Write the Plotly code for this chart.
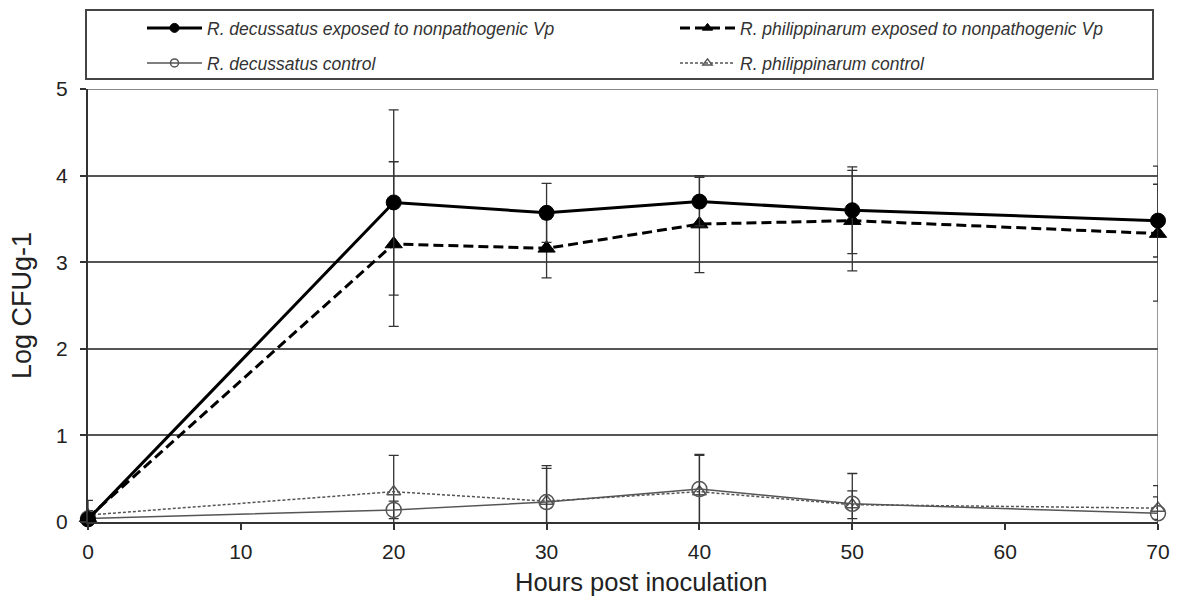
import plotly.graph_objects as go

hours = [0, 20, 30, 40, 50, 70]

dec_exp = [0.03, 3.69, 3.57, 3.70, 3.60, 3.48]
dec_exp_err = [0.22, 1.07, 0.34, 0.28, 0.50, 0.42]
phi_exp = [0.05, 3.21, 3.16, 3.44, 3.48, 3.33]
phi_exp_err = [0.05, 0.95, 0.34, 0.56, 0.58, 0.78]
dec_ctrl = [0.04, 0.14, 0.23, 0.38, 0.21, 0.10]
dec_ctrl_err = [0.05, 0.10, 0.42, 0.40, 0.35, 0.32]
phi_ctrl = [0.08, 0.35, 0.24, 0.35, 0.20, 0.16]
phi_ctrl_err = [0.05, 0.42, 0.38, 0.42, 0.16, 0.13]

names = [
    "R. decussatus exposed to nonpathogenic Vp",
    "R. philippinarum exposed to nonpathogenic Vp",
    "R. decussatus control",
    "R. philippinarum control",
]

x_ticks = [0, 10, 20, 30, 40, 50, 60, 70]
y_ticks = [0, 1, 2, 3, 4, 5]

FONT = "Liberation Sans, Arial, sans-serif"
PW, PH, L, B = 1070, 433, 88, 522


def px_x(p):
    return (p - L) / PW


def px_y(p):
    return (B - p) / PH


fig = go.Figure()


def add(y, err, name, color, width, dash, symbol, size, mline, legend, legsize):
    fig.add_trace(go.Scatter(
        x=hours, y=y, name=name, mode="lines+markers",
        line=dict(color=color, width=width, dash=dash),
        marker=dict(symbol=symbol, size=size, color=color,
                    line=dict(color=color, width=mline)),
        error_y=dict(type="data", array=err, visible=True,
                     color="#333333", thickness=1.3, width=5),
        cliponaxis=False, showlegend=False,
    ))
    # legend-only entry with a smaller symbol, as in the reference key
    fig.add_trace(go.Scatter(
        x=[None], y=[None], name=name, mode="lines+markers",
        line=dict(color=color, width=width, dash=dash),
        marker=dict(symbol=symbol, size=legsize, color=color,
                    line=dict(color=color, width=mline)),
        showlegend=True, legend=legend, hoverinfo="skip",
    ))


add(phi_ctrl, phi_ctrl_err, names[3], "#555555", 1.5, "3px,2px", "triangle-up-open", 12, 1.5, "legend4", 8)
add(dec_ctrl, dec_ctrl_err, names[2], "#555555", 1.5, "solid", "circle-open", 15, 1.5, "legend3", 8)
add(phi_exp, phi_exp_err, names[1], "#000000", 3, "10px,5px", "triangle-up", 15, 1, "legend2", 9)
add(dec_exp, dec_exp_err, names[0], "#000000", 3, "solid", "circle", 15, 1, "legend", 9)

leg_common = dict(
    orientation="h", xanchor="left", yanchor="middle",
    font=dict(family=FONT, size=17.5, color="#333333", style="italic"),
    bgcolor="rgba(0,0,0,0)", itemwidth=55,
    itemsizing="trace",
)

fig.update_layout(
    width=1179, height=603,
    margin=dict(l=88, r=21, t=89, b=81, autoexpand=False),
    paper_bgcolor="white", plot_bgcolor="white",
    font=dict(family=FONT, color="#222222"),
    showlegend=True,
    legend=dict(x=px_x(142), y=px_y(28), **leg_common),
    legend2=dict(x=px_x(675), y=px_y(28), **leg_common),
    legend3=dict(x=px_x(142), y=px_y(63), **leg_common),
    legend4=dict(x=px_x(675), y=px_y(63), **leg_common),
    xaxis=dict(
        range=[0, 70], tickvals=x_ticks, ticks="outside", ticklen=6,
        tickcolor="#333333", tickwidth=1.5, showgrid=False, zeroline=False,
        showline=True, linecolor="#333333", linewidth=2,
        tickfont=dict(size=21, color="#222222"), ticklabelstandoff=4,
    ),
    yaxis=dict(
        range=[0, 5], tickvals=y_ticks, ticks="outside", ticklen=6,
        tickcolor="#333333", tickwidth=1.5, showgrid=True, gridcolor="#555555",
        gridwidth=2, zeroline=False, showline=True, linecolor="#333333", linewidth=2,
        tickfont=dict(size=21, color="#222222"), ticklabelstandoff=8,
        title=dict(text="Log CFUg-1", font=dict(size=27, color="#222222"), standoff=17),
    ),
    annotations=[
        dict(text="Hours post inoculation", xref="paper", yref="paper",
             x=px_x(641), y=px_y(590), xanchor="center", yanchor="bottom",
             yshift=-8, showarrow=False,
             font=dict(family=FONT, size=25.5, color="#222222")),
    ],
    shapes=[
        dict(type="line", xref="x", yref="paper", x0=70, x1=70, y0=0, y1=1,
             line=dict(color="#999999", width=2), layer="below"),
        dict(type="line", xref="paper", yref="y", x0=0, x1=1, y0=5, y1=5,
             line=dict(color="#888888", width=2), layer="below"),
        dict(type="rect", xref="paper", yref="paper",
             x0=px_x(86), x1=px_x(1153), y0=px_y(79), y1=px_y(10),
             line=dict(color="#444444", width=2), fillcolor="rgba(0,0,0,0)"),
    ],
)

fig.write_html("out.html")
